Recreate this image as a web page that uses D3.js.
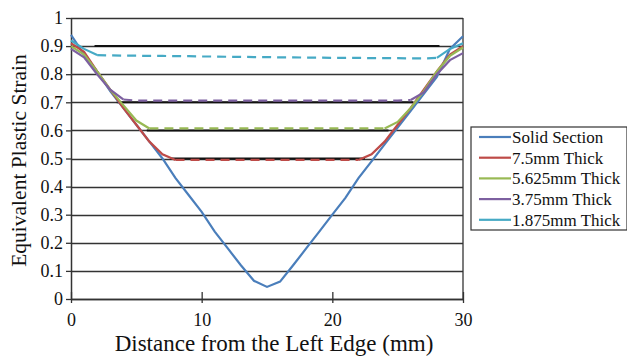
<!DOCTYPE html>
<html>
<head>
<meta charset="utf-8">
<script src="https://cdn.jsdelivr.net/npm/d3@7"></script>
<style>
  body { margin: 0; background: #fff; }
  svg { display: block; }
  svg text { font-family: "Liberation Serif", "Times New Roman", serif; }
</style>
</head>
<body>
<svg width="627" height="363"></svg>
<script>
var svgWidth = 627;
var svgHeight = 363;
var serif = "'Liberation Serif', 'Times New Roman', serif";

// distance from left edge (mm)
var xs = [0, 1, 2, 3, 4, 5, 6, 7, 8, 9, 10, 11, 12, 13, 14, 15,
          16, 17, 18, 19, 20, 21, 22, 23, 24, 25, 26, 27, 28, 29, 30];

var seriesNames = ["Solid Section", "7.5mm Thick", "5.625mm Thick", "3.75mm Thick", "1.875mm Thick"];
var seriesColors = ["#4a7ebb", "#be4b48", "#98b954", "#7d60a0", "#46aac5"];

var solidSection = [0.94, 0.87, 0.81, 0.74, 0.68, 0.62, 0.56, 0.50, 0.43, 0.37, 0.31, 0.24, 0.18, 0.12, 0.065, 0.043,
                    0.062, 0.12, 0.18, 0.24, 0.30, 0.36, 0.43, 0.49, 0.55, 0.61, 0.67, 0.73, 0.79, 0.89, 0.935];
var thick75    = [0.91, 0.88, 0.81, 0.745, 0.68, 0.62, 0.56, 0.515, 0.495, 0.495, 0.495, 0.495, 0.495, 0.495, 0.495, 0.495,
                  0.495, 0.495, 0.495, 0.495, 0.495, 0.495, 0.495, 0.515, 0.56, 0.62, 0.68, 0.745, 0.81, 0.87, 0.90];
var thick5625  = [0.90, 0.87, 0.81, 0.745, 0.69, 0.635, 0.607, 0.607, 0.607, 0.607, 0.607, 0.607, 0.607, 0.607, 0.607, 0.607,
                  0.607, 0.607, 0.607, 0.607, 0.607, 0.607, 0.607, 0.607, 0.607, 0.63, 0.68, 0.74, 0.81, 0.865, 0.895];
var thick375   = [0.89, 0.86, 0.80, 0.745, 0.71, 0.706, 0.706, 0.706, 0.706, 0.706, 0.706, 0.706, 0.706, 0.706, 0.706, 0.706,
                  0.706, 0.706, 0.706, 0.706, 0.706, 0.706, 0.706, 0.706, 0.706, 0.706, 0.708, 0.735, 0.80, 0.85, 0.875];
var thick1875  = [0.92, 0.89, 0.868, 0.867, 0.866, 0.866, 0.865, 0.865, 0.864, 0.864, 0.863, 0.863, 0.862, 0.862, 0.861, 0.861,
                  0.860, 0.860, 0.859, 0.859, 0.858, 0.858, 0.858, 0.857, 0.857, 0.857, 0.856, 0.856, 0.858, 0.89, 0.91];

// x range of the flat (dashed) part of each series, null = no flat part
var flatStart = [null, 8, 6, 4, 2];
var flatEnd   = [null, 22, 24, 26, 28];

// black reference lines: level and x range
var refLevels = [0.9, 0.7, 0.6, 0.5];
var refStart  = [1.8, 3.5, 5.8, 7.6];
var refEnd    = [28.2, 26.2, 24.3, 22.5];

var yTicks = [0, 0.1, 0.2, 0.3, 0.4, 0.5, 0.6, 0.7, 0.8, 0.9, 1];
var xTicks = [0, 10, 20, 30];

var allSeries = [solidSection, thick75, thick5625, thick375, thick1875];

var margin = {left: 71, right: 164, top: 18, bottom: 64};
var plotW = svgWidth - margin.left - margin.right;
var plotH = svgHeight - margin.top - margin.bottom;

var svg = d3.select("svg");

var x = d3.scaleLinear().domain([0, 30]).range([margin.left, margin.left + plotW]);
var y = d3.scaleLinear().domain([0, 1]).range([margin.top + plotH, margin.top]);

// grid lines
svg.append("g").selectAll("line")
    .data(yTicks)
    .enter()
    .append("line")
    .attr("x1", x(0))
    .attr("x2", x(30))
    .attr("y1", function(d) { return Math.round(y(d)) + 0.5; })
    .attr("y2", function(d) { return Math.round(y(d)) + 0.5; })
    .attr("stroke", "#333")
    .attr("stroke-width", 1.3);

// plot border (right side)
svg.append("line")
    .attr("x1", x(30)).attr("x2", x(30))
    .attr("y1", y(1)).attr("y2", y(0))
    .attr("stroke", "#333").attr("stroke-width", 1.3);

// black reference lines
svg.append("g").selectAll("line")
    .data(refLevels)
    .enter()
    .append("line")
    .attr("x1", function(d, i) { return x(refStart[i]); })
    .attr("x2", function(d, i) { return x(refEnd[i]); })
    .attr("y1", function(d) { return y(d); })
    .attr("y2", function(d) { return y(d); })
    .attr("stroke", "#111")
    .attr("stroke-width", 2);

// y axis
var yAxis = d3.axisLeft(y).tickValues(yTicks).tickSize(5).tickSizeOuter(0)
    .tickFormat(function(d) { return d === 0 || d === 1 ? d3.format("d")(d) : d3.format(".1f")(d); });
var yg = svg.append("g")
    .attr("transform", "translate(" + x(0) + ",0)")
    .call(yAxis)
    .attr("font-family", serif);
yg.selectAll("text").attr("font-size", 18).attr("fill", "#111").attr("x", -8);
yg.selectAll("line").attr("stroke", "#333").attr("stroke-width", 1.3);
yg.select(".domain").attr("stroke", "#333").attr("stroke-width", 1.5);

// x axis
var xAxis = d3.axisBottom(x).tickValues(xTicks).tickSize(4).tickSizeOuter(0);
var xg = svg.append("g")
    .attr("transform", "translate(0," + y(0) + ")")
    .call(xAxis)
    .attr("font-family", serif);
xg.selectAll("text").attr("font-size", 18).attr("fill", "#111").attr("y", 14);
xg.selectAll(".tick line").attr("y1", -7).attr("y2", 4).attr("stroke", "#333").attr("stroke-width", 1.3);
xg.select(".domain").attr("stroke", "#333").attr("stroke-width", 1.5);

// series
var line = d3.line()
    .x(function(d) { return x(d[0]); })
    .y(function(d) { return y(d[1]); });

allSeries.forEach(function(vals, s) {
    var pts = xs.map(function(v, i) { return [v, vals[i]]; });
    var g = svg.append("g");
    if (flatStart[s] === null) {
        g.append("path").attr("d", line(pts))
            .attr("fill", "none").attr("stroke", seriesColors[s]).attr("stroke-width", 2.2);
        return;
    }
    var left = pts.filter(function(p) { return p[0] <= flatStart[s]; });
    var mid = pts.filter(function(p) { return p[0] >= flatStart[s] && p[0] <= flatEnd[s]; });
    var right = pts.filter(function(p) { return p[0] >= flatEnd[s]; });
    [left, right].forEach(function(part) {
        g.append("path").attr("d", line(part))
            .attr("fill", "none").attr("stroke", seriesColors[s]).attr("stroke-width", 2.2);
    });
    g.append("path").attr("d", line(mid))
        .attr("fill", "none").attr("stroke", seriesColors[s]).attr("stroke-width", 2.2)
        .attr("stroke-dasharray", "9,6");
});

// axis titles
svg.append("text")
    .attr("x", (x(0) + x(30)) / 2 + 7)
    .attr("y", 351)
    .attr("text-anchor", "middle")
    .attr("font-family", serif)
    .attr("font-size", 23)
    .attr("fill", "#111")
    .text("Distance from the Left Edge (mm)");

svg.append("text")
    .attr("transform", "translate(26," + ((y(0) + y(1)) / 2 + 2) + ") rotate(-90)")
    .attr("text-anchor", "middle")
    .attr("font-family", serif)
    .attr("font-size", 21.5)
    .attr("fill", "#111")
    .text("Equivalent Plastic Strain");

// legend
var legend = svg.append("g").attr("transform", "translate(471,127)");
legend.append("rect")
    .attr("width", 156).attr("height", 103)
    .attr("fill", "#fff").attr("stroke", "#333").attr("stroke-width", 1.2);
var items = legend.selectAll("g.item")
    .data(seriesNames)
    .enter()
    .append("g")
    .attr("transform", function(d, i) { return "translate(0," + (10 + i * 20.7) + ")"; });
items.append("line")
    .attr("x1", 8).attr("x2", 40).attr("y1", 0).attr("y2", 0)
    .attr("stroke", function(d, i) { return seriesColors[i]; })
    .attr("stroke-width", 2.2);
items.append("text")
    .attr("x", 41).attr("y", 6)
    .attr("font-family", serif)
    .attr("font-size", 17)
    .attr("fill", "#111")
    .text(function(d) { return d; });
</script>
</body>
</html>
